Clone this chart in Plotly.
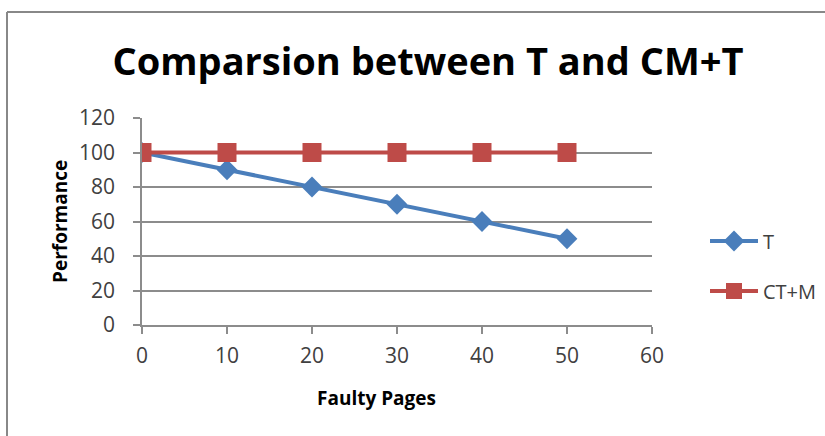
import plotly.graph_objects as go

x_pages = [0, 10, 20, 30, 40, 50]
t_values = [100, 90, 80, 70, 60, 50]
ctm_values = [100, 100, 100, 100, 100, 100]
x_ticks = [0, 10, 20, 30, 40, 50, 60]
y_ticks = [0, 20, 40, 60, 80, 100, 120]

W, H = 825, 436
L, R, T, B = 142, 652, 118, 325
pw, ph = R - L, B - T


def px_x(p):
    return (p - L) / pw


def px_y(p):
    return (B - p) / ph


fig = go.Figure()
fig.add_trace(go.Scatter(
    x=x_pages, y=t_values, name="T", mode="lines+markers",
    line=dict(color="#4A7EBB", width=4),
    marker=dict(symbol="diamond", size=16, color="#4A7EBB"),
    legend="legend",
))
fig.add_trace(go.Scatter(
    x=x_pages, y=ctm_values, name="CT+M", mode="lines+markers",
    line=dict(color="#BE4B48", width=4),
    marker=dict(symbol="square", size=19, color="#BE4B48"),
    legend="legend2",
))

tick_font = dict(family="Open Sans", size=21, color="#404040")
leg_font = dict(family="Open Sans", size=20, color="#404040")

fig.update_layout(
    width=W, height=H,
    margin=dict(l=L, r=W - R, t=T, b=H - B),
    paper_bgcolor="white", plot_bgcolor="white",
    title=dict(text="<b>Comparsion between T and CM+T</b>",
               x=px_x(428), xref="paper", xanchor="center",
               y=1 - 62 / H, yref="container", yanchor="middle",
               font=dict(family="Open Sans", size=38, color="black")),
    xaxis=dict(range=[0, 60], tickvals=x_ticks, showgrid=False,
               showline=True, linecolor="#8C8C8C", linewidth=1.5,
               ticks="outside", ticklen=7, tickcolor="#8C8C8C", tickwidth=1.5,
               ticklabelstandoff=4,
               tickfont=tick_font, zeroline=False),
    yaxis=dict(range=[0, 120], tickvals=y_ticks, showgrid=True,
               gridcolor="#8C8C8C", gridwidth=1.5,
               showline=True, linecolor="#8C8C8C", linewidth=1.5,
               ticks="outside", ticklen=7, tickcolor="#8C8C8C", tickwidth=1.5,
               ticklabelstandoff=14,
               tickfont=tick_font, zeroline=False),
    legend=dict(xref="container", yref="container",
                x=705 / W, y=1 - 241 / H, xanchor="left", yanchor="middle",
                font=leg_font, itemwidth=48, bgcolor="rgba(0,0,0,0)"),
    legend2=dict(xref="container", yref="container",
                 x=705 / W, y=1 - 291 / H, xanchor="left", yanchor="middle",
                 font=leg_font, itemwidth=48, bgcolor="rgba(0,0,0,0)"),
    showlegend=True,
    annotations=[
        dict(text="<b>Faulty Pages</b>", xref="paper", yref="paper",
             x=px_x(376), y=px_y(398), xanchor="center", yanchor="middle",
             showarrow=False,
             font=dict(family="Open Sans", size=19, color="black")),
        dict(text="<b>Performance</b>", xref="paper", yref="paper",
             x=px_x(60), y=px_y(222), xanchor="center", yanchor="middle",
             textangle=-90, showarrow=False,
             font=dict(family="Open Sans", size=19, color="black")),
    ],
)

# outer chart frame (left and top edges visible)
fig.add_shape(type="line", xref="paper", yref="paper",
              x0=px_x(7), x1=px_x(7), y0=px_y(445), y1=px_y(12),
              line=dict(color="#888888", width=2))
fig.add_shape(type="line", xref="paper", yref="paper",
              x0=px_x(7), x1=px_x(835), y0=px_y(12), y1=px_y(12),
              line=dict(color="#888888", width=2))

fig.write_html("out.html",
               config={"displayModeBar": False},
               post_script="document.body.style.margin='0';"
                           "document.body.style.overflow='hidden';")
